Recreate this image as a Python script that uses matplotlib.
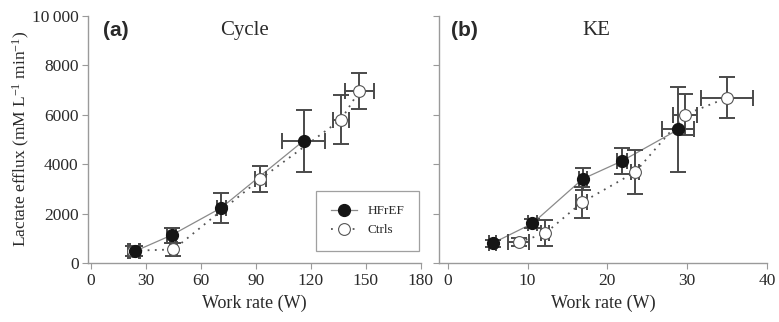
import matplotlib
matplotlib.use("Agg")
import matplotlib.pyplot as plt
from matplotlib.lines import Line2D

# Panel (a) Cycle
cyc_hf_x = [24, 44, 71, 116]
cyc_hf_xerr = [2.5, 2.5, 2.5, 11.5]
cyc_hf_y = [480, 1130, 2230, 4940]
cyc_hf_yerr = [200, 300, 610, 1260]

cyc_ct_x = [23, 45, 92.5, 136.5, 146.5]
cyc_ct_xerr = [3, 2, 3, 4.5, 8]
cyc_ct_y = [500, 550, 3400, 5800, 6960]
cyc_ct_yerr = [200, 250, 540, 1000, 720]

# Panel (b) KE
ke_hf_x = [5.6, 10.6, 16.9, 21.8, 28.9]
ke_hf_xerr = [0.5, 0.6, 0.5, 0.6, 2.0]
ke_hf_y = [800, 1600, 3400, 4120, 5400]
ke_hf_yerr = [150, 200, 450, 520, 1720]

ke_ct_x = [8.9, 12.2, 16.8, 23.5, 29.75, 35.0]
ke_ct_xerr = [1.3, 0.5, 0.7, 0.5, 1.5, 3.25]
ke_ct_y = [850, 1200, 2450, 3680, 6000, 6680]
ke_ct_yerr = [150, 530, 620, 870, 830, 830]

yticks = [0, 2000, 4000, 6000, 8000, 10000]
ytick_labels = ["0", "2000", "4000", "6000", "8000", "10\u2009000"]
cyc_xticks = [0, 30, 60, 90, 120, 150, 180]
ke_xticks = [0, 10, 20, 30, 40]

serif = ["Liberation Serif", "DejaVu Serif"]
plt.rcParams["font.family"] = serif
plt.rcParams["mathtext.fontset"] = "custom"
plt.rcParams["mathtext.rm"] = "Liberation Serif"
plt.rcParams["mathtext.it"] = "Liberation Serif:italic"
plt.rcParams["mathtext.default"] = "rm"

fig = plt.figure(figsize=(7.79, 3.22), dpi=100)
axa = fig.add_axes([0.1134, 0.183, 0.4267, 0.7686])
axb = fig.add_axes([0.5636, 0.183, 0.4210, 0.7686])

spine_c = "#9a9a9a"
err_c = "#4a4a4a"
txt_c = "#2a2a2a"

def style(ax, xlim, xticks, ylabels):
    ax.set_xlim(*xlim)
    ax.set_ylim(0, 10000)
    for s in ["top", "right"]:
        ax.spines[s].set_visible(False)
    for s in ["left", "bottom"]:
        ax.spines[s].set_color(spine_c)
        ax.spines[s].set_linewidth(1.0)
    ax.set_xticks(xticks)
    ax.set_xticklabels([str(t) for t in xticks])
    ax.set_yticks(yticks)
    if ylabels:
        ax.set_yticklabels(ytick_labels)
    else:
        ax.set_yticklabels([])
    ax.tick_params(direction="out", length=4, color=spine_c, labelsize=12.5,
                   labelcolor=txt_c, pad=3)
    ax.set_xlabel("Work rate (W)", fontsize=13, color=txt_c, labelpad=4)

def plot_series(ax, x, xe, y, ye, filled):
    if filled:
        ax.plot(x, y, "-", color="#8a8a8a", lw=0.9, zorder=2)
    else:
        ax.plot(x, y, linestyle=(0, (1, 3)), color="#555555", lw=1.3, zorder=2)
    ax.errorbar(x, y, xerr=xe, yerr=ye, fmt="none", ecolor=err_c, elinewidth=1.4,
                capsize=5.5, capthick=1.4, zorder=3)
    if filled:
        ax.plot(x, y, "o", ms=8.5, mfc="#151515", mec="#151515", ls="none", zorder=5)
    else:
        ax.plot(x, y, "o", ms=8.5, mfc="white", mec="#555555", mew=0.8, ls="none", zorder=4)

style(axa, (-1.5, 180), cyc_xticks, True)
style(axb, (-1.1, 40), ke_xticks, False)

plot_series(axa, cyc_ct_x, cyc_ct_xerr, cyc_ct_y, cyc_ct_yerr, False)
plot_series(axa, cyc_hf_x, cyc_hf_xerr, cyc_hf_y, cyc_hf_yerr, True)
plot_series(axb, ke_ct_x, ke_ct_xerr, ke_ct_y, ke_ct_yerr, False)
plot_series(axb, ke_hf_x, ke_hf_xerr, ke_hf_y, ke_hf_yerr, True)

axa.set_ylabel("Lactate efflux (mM L$^{-1}$ min$^{-1}$)", fontsize=12.5, color=txt_c,
               labelpad=0)

axa.text(0.045, 0.94, "(a)", transform=axa.transAxes, fontsize=15, fontweight="bold",
         family=["Liberation Sans", "DejaVu Sans"], va="center", ha="left", color=txt_c)
axa.text(0.47, 0.94, "Cycle", transform=axa.transAxes, fontsize=15, va="center",
         ha="center", color=txt_c)
axb.text(0.035, 0.94, "(b)", transform=axb.transAxes, fontsize=15, fontweight="bold",
         family=["Liberation Sans", "DejaVu Sans"], va="center", ha="left", color=txt_c)
axb.text(0.48, 0.94, "KE", transform=axb.transAxes, fontsize=15, va="center",
         ha="center", color=txt_c)

handles = [
    Line2D([], [], color="#8a8a8a", lw=0.9, ls="-", marker="o", ms=8.5,
           mfc="#151515", mec="#151515"),
    Line2D([], [], color="#555555", lw=1.3, ls=(0, (1, 3)), marker="o", ms=8.5,
           mfc="white", mec="#555555", mew=0.8),
]
leg = axa.legend(handles, ["HFrEF", "Ctrls"], loc="lower right",
                 bbox_to_anchor=(0.995, 0.05), fontsize=9.5, frameon=True,
                 fancybox=False, handlelength=2.0, borderpad=1.1, labelspacing=0.5,
                 borderaxespad=0, labelcolor=txt_c)
leg.get_frame().set_edgecolor("#888888")
leg.get_frame().set_linewidth(0.9)

fig.savefig("out.png", dpi=100)
